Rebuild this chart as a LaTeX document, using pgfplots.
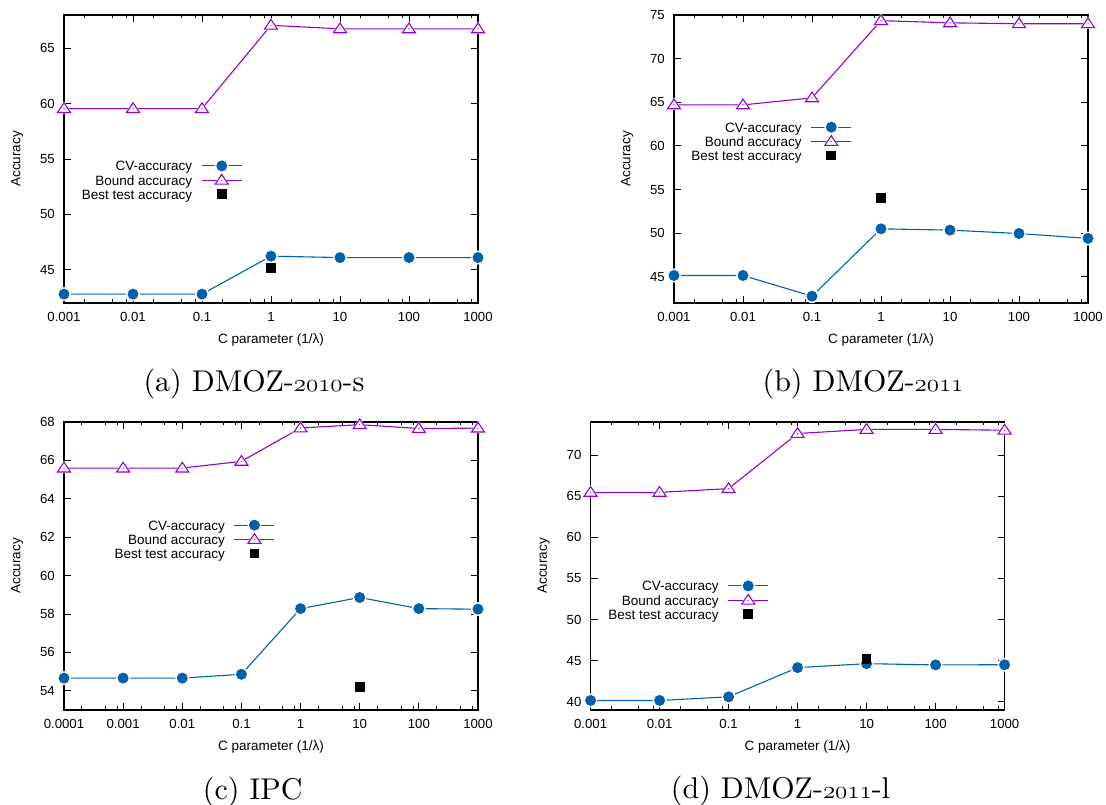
\documentclass[border=0pt]{standalone}
\usepackage{fontspec}
\setmainfont{Liberation Sans}
\newfontfamily\capfont{lmroman10-regular.otf}
\usepackage{pgfplots}
\pgfplotsset{compat=1.18}
\definecolor{cvblue}{HTML}{0060AD}
\definecolor{bndpurple}{HTML}{9400D3}
\newcommand\osn[1]{{\fontencoding{OML}\fontfamily{lmm}\fontseries{m}\fontshape{it}\selectfont #1}}

\pgfdeclareplotmark{cvdot}{%
  \pgfsetfillcolor{white}\pgfpathcircle{\pgfpointorigin}{7pt}\pgfusepath{fill}%
  \pgfsetfillcolor{cvblue}\pgfpathcircle{\pgfpointorigin}{5.5pt}\pgfusepath{fill}}
\pgfdeclareplotmark{bndtri}{%
  \pgfsetfillcolor{white}%
  \pgfpathmoveto{\pgfqpoint{0pt}{7.3pt}}\pgfpathlineto{\pgfqpoint{-8.2pt}{-5pt}}\pgfpathlineto{\pgfqpoint{8.2pt}{-5pt}}\pgfpathclose\pgfusepath{fill}%
  \pgfsetstrokecolor{bndpurple}\pgfsetlinewidth{1.1pt}%
  \pgfpathmoveto{\pgfqpoint{0pt}{5.8pt}}\pgfpathlineto{\pgfqpoint{-6.5pt}{-3.9pt}}\pgfpathlineto{\pgfqpoint{6.5pt}{-3.9pt}}\pgfpathclose\pgfusepath{stroke}%
  \pgfsetfillcolor{bndpurple}\pgfpathcircle{\pgfpointorigin}{0.7pt}\pgfusepath{fill}}
\pgfdeclareplotmark{bestsq}{%
  \pgfsetfillcolor{black}\pgfpathrectangle{\pgfqpoint{-4.8pt}{-4.8pt}}{\pgfqpoint{9.6pt}{9.6pt}}\pgfusepath{fill}}

\pgfplotsset{
  legend image code/.code={\draw[mark repeat=2,mark phase=2,#1] plot coordinates {(0pt,0pt) (20pt,0pt) (40pt,0pt)};},
  myaxis/.style={
    scale only axis, width=414pt, height=288pt,
    anchor=south west, clip=false,
    tick align=inside, xtick pos=both, ytick pos=both,
    major tick length=7pt, minor tick length=3.5pt,
    tick style={black, line width=0.8pt},
    axis line style={black, line width=1.2pt},
    xticklabel style={font=\fontsize{13.2}{15}\selectfont, inner sep=0pt, anchor=north, yshift=-9pt},
    yticklabel style={font=\fontsize{13.2}{15}\selectfont, inner sep=0pt, anchor=east, xshift=-9pt},
    yticklabel={\pgfmathprintnumber[assume math mode=true]{\tick}},
    xlabel={C parameter (1/λ)}, ylabel={Accuracy},
    label style={font=\fontsize{13.5}{16}\selectfont},
    xlabel style={at={(axis description cs:0.5,-0.1285)}, anchor=center},
    ylabel style={at={(axis description cs:-0.1135,0.5)}, anchor=center},
    legend plot pos=right, legend cell align=right,
    legend style={draw=none, fill=none, inner sep=0pt, outer sep=0pt,
      row sep=0pt, column sep=9pt, font=\fontsize{13.5}{16}\selectfont,
      anchor=north east, nodes={inner sep=0pt, text height=12pt, text depth=2pt}},
    xtick={0.001,0.01,0.1,1,10,100,1000},
    xticklabels={0.001,0.01,0.1,1,10,100,1000},
    minor xtick={0.002,0.005,0.008,0.02,0.05,0.08,0.2,0.5,0.8,2,5,8,20,50,80,200,500,800},
    xmin=0.001, xmax=1000,
  },
  cvstyle/.style={cvblue, line width=1.1pt, mark=cvdot},
  bndstyle/.style={bndpurple, line width=1.1pt, mark=bndtri},
  beststyle/.style={only marks, mark=bestsq},
}

\begin{document}
\begin{tikzpicture}[x=1pt,y=1pt]
\useasboundingbox (0,0) rectangle (1106,805);

% (a) DMOZ-2010-s
\begin{semilogxaxis}[myaxis, at={(64pt,502pt)},
  ymin=42, ymax=68, ytick={45,50,55,60,65},
  legend style={at={(0.4307,0.5003)}}]
\addplot[cvstyle] coordinates {(0.001,42.8) (0.01,42.8) (0.1,42.8) (1,46.23) (10,46.1) (100,46.1) (1000,46.1)};
\addlegendentry{CV-accuracy}
\addplot[bndstyle] coordinates {(0.001,59.55) (0.01,59.55) (0.1,59.55) (1,67.07) (10,66.75) (100,66.75) (1000,66.75)};
\addlegendentry{Bound accuracy}
\addplot[beststyle] coordinates {(1,45.15)};
\addlegendentry{Best test accuracy}
\end{semilogxaxis}

% (b) DMOZ-2011
\begin{semilogxaxis}[myaxis, at={(674pt,502pt)},
  ymin=42, ymax=75, ytick={45,50,55,60,65,70,75},
  legend style={at={(0.4295,0.6347)}}]
\addplot[cvstyle] coordinates {(0.001,45.15) (0.01,45.15) (0.1,42.78) (1,50.5) (10,50.35) (100,49.96) (1000,49.4)};
\addlegendentry{CV-accuracy}
\addplot[bndstyle] coordinates {(0.001,64.7) (0.01,64.7) (0.1,65.5) (1,74.35) (10,74.1) (100,74.0) (1000,74.0)};
\addlegendentry{Bound accuracy}
\addplot[beststyle] coordinates {(1,54.0)};
\addlegendentry{Best test accuracy}
\end{semilogxaxis}

% (c) IPC
\begin{semilogxaxis}[myaxis, at={(64pt,95pt)},
  xmin=0.0001,
  xtick={0.0001,0.001,0.01,0.1,1,10,100,1000},
  xticklabels={0.0001,0.001,0.01,0.1,1,10,100,1000},
  minor xtick={0.0002,0.0005,0.0008,0.002,0.005,0.008,0.02,0.05,0.08,0.2,0.5,0.8,2,5,8,20,50,80,200,500,800},
  ymin=53, ymax=68, ytick={54,56,58,60,62,64,66,68},
  legend style={at={(0.5097,0.666)}}]
\addplot[cvstyle] coordinates {(0.0001,54.66) (0.001,54.66) (0.01,54.66) (0.1,54.86) (1,58.28) (10,58.86) (100,58.28) (1000,58.25)};
\addlegendentry{CV-accuracy}
\addplot[bndstyle] coordinates {(0.0001,65.6) (0.001,65.6) (0.01,65.6) (0.1,65.95) (1,67.69) (10,67.86) (100,67.66) (1000,67.68)};
\addlegendentry{Bound accuracy}
\addplot[beststyle] coordinates {(10,54.2)};
\addlegendentry{Best test accuracy}
\end{semilogxaxis}

% (d) DMOZ-2011-l
\begin{semilogxaxis}[myaxis, at={(590.6pt,95pt)},
  ymin=39, ymax=74, ytick={40,45,50,55,60,65,70},
  legend style={at={(0.4304,0.4552)}}]
\addplot[cvstyle] coordinates {(0.001,40.16) (0.01,40.16) (0.1,40.6) (1,44.15) (10,44.63) (100,44.48) (1000,44.5)};
\addlegendentry{CV-accuracy}
\addplot[bndstyle] coordinates {(0.001,65.45) (0.01,65.45) (0.1,65.9) (1,72.6) (10,73.1) (100,73.1) (1000,73.0)};
\addlegendentry{Bound accuracy}
\addplot[beststyle] coordinates {(10,45.2)};
\addlegendentry{Best test accuracy}
\end{semilogxaxis}

\node[anchor=base, font=\capfont\fontsize{30}{34}\selectfont] at (254,413.3) {(a) DMOZ-\osn{2010}-s};
\node[anchor=base, font=\capfont\fontsize{30}{34}\selectfont] at (863,413.5) {(b) DMOZ-\osn{2011}};
\node[anchor=base, font=\capfont\fontsize{30}{34}\selectfont] at (252.7,5.8) {(c) IPC};
\node[anchor=base, font=\capfont\fontsize{30}{34}\selectfont] at (780.5,6) {(d) DMOZ-\osn{2011}-l};
\end{tikzpicture}
\end{document}
